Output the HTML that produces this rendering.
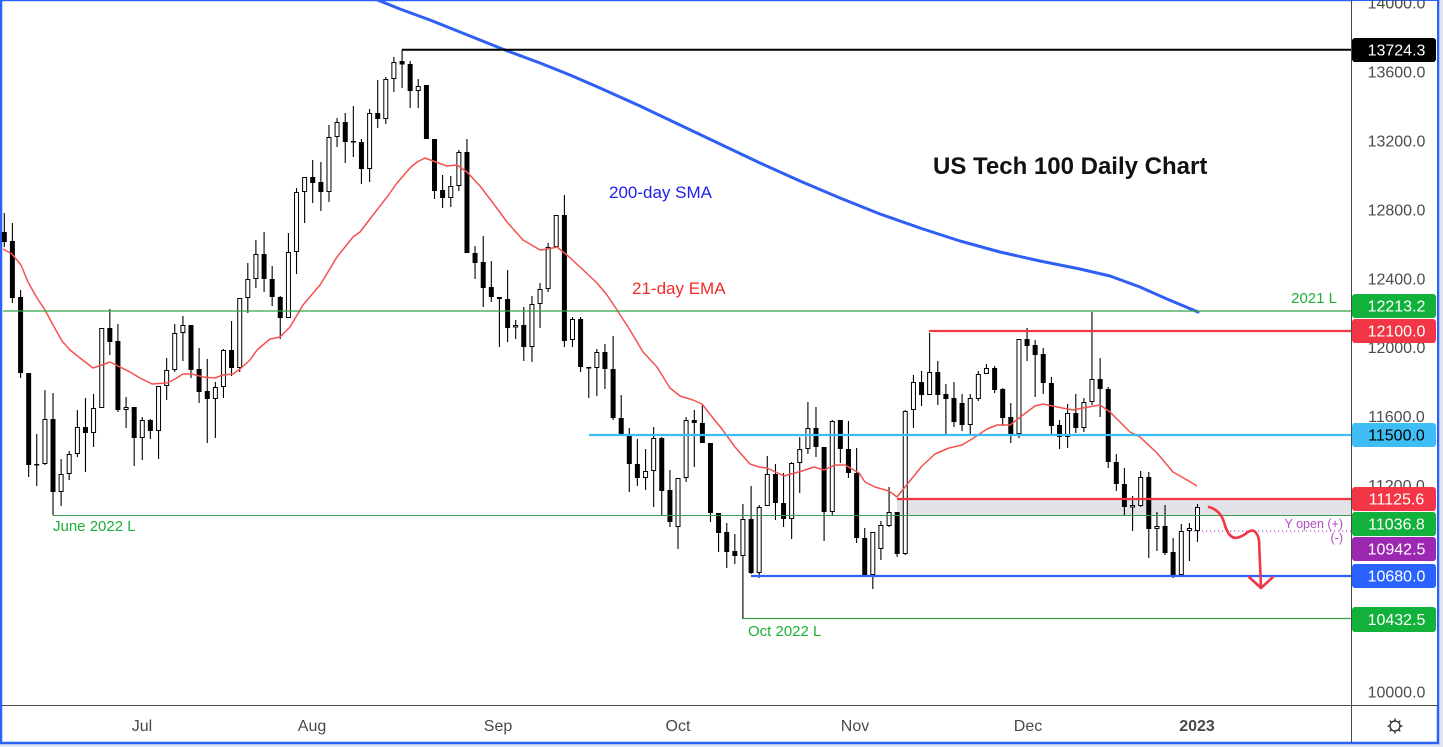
<!DOCTYPE html>
<html><head><meta charset="utf-8"><style>
html,body{margin:0;padding:0;background:#e0e4ee;}
svg{display:block;font-family:"Liberation Sans",Arial,sans-serif;}
</style></head><body>
<svg width="1443" height="747" viewBox="0 0 1443 747" xmlns="http://www.w3.org/2000/svg">
<rect x="0" y="0" width="1443" height="747" fill="#e0e4ee"/>
<rect x="1" y="0" width="1437" height="743" fill="#ffffff" stroke="#2962ff" stroke-width="2.5"/>

<!-- grey zone -->
<rect x="897" y="499" width="455" height="16.5" fill="#e1e3e9"/>

<!-- candles -->
<g transform="matrix(0.9984 0 0 1 0.007 0)">
<path fill="none" stroke="#000" stroke-width="1.1" d="M4.3 213V247M12.4 223V303M20.6 290V378M28.7 373V477M36.8 434V486M45 390V465M53.1 393V515M61.2 459V506M69.3 451V480M77.5 410V457M85.6 398V472M93.7 394V447M101.9 328V408M110 309V355M118.1 324V412M126.3 397V428M134.4 407V466M142.5 417V460M150.6 419V439M158.8 386V459M166.9 358V400M175 324V372M183.2 316V361M191.3 325V378M199.4 348V403M207.6 359V443M215.7 382V438M223.8 349V398M231.9 321V376M240.1 298V372M248.2 263V313M256.3 240V288M264.5 232V292M272.6 266V306M280.7 296V339M288.9 233V318M297 188V274M305.1 177V223M313.2 160V203M321.4 162V211M329.5 125V202M337.6 118V147M345.8 113V163M353.9 106V157M362 139V184M370.2 109V182M378.3 80V128M386.4 77V124M394.5 57V92M402.7 50V88M410.8 61V108M418.9 79V108M427.1 85V139M435.2 139V199M443.3 175V208M451.5 176V207M459.6 150V191M467.7 139V253M475.8 246V279M484 236V307M492.1 261V302M500.2 297V347M508.4 270V342M516.5 320V339M524.6 307V361M532.8 296V362M540.9 283V328M549 243V292M557.1 215V247M565.3 195V347M573.4 317V347M581.5 317V372M589.7 367V398M597.8 349V396M605.9 344V389M614.1 336V420M622.2 395V434M630.3 428V492M638.4 439V486M646.6 449V490M654.7 427V507M662.8 437V515M671 470V527M679.1 478V549M687.2 417V482M695.4 410V467M703.5 405V443M711.6 443V522M719.7 513V552M727.9 523V568M736 534V564M744.1 504V619M752.3 486V574M760.4 505V578M768.5 456V506M776.7 464V520M784.8 473V527M792.9 462V539M801 437V493M809.2 402V454M817.3 407V457M825.4 447V541M833.6 420V516M841.7 420V463M849.8 421V478M858 448V543M866.1 528V577M874.2 532V589M882.3 521V560M890.5 487V527M898.6 512V557M906.7 410V555M914.9 375V428M923 371V406M931.1 333V395M939.3 361V405M947.4 384V434M955.5 382V427M963.6 394V431M971.8 394V434M979.9 371V401M988 364V374M996.2 366V393M1004.3 388V426M1012.4 403V443M1020.6 339V438M1028.7 328V361M1036.8 340V397M1044.9 348V394M1053.1 377V434M1061.2 420V449M1069.3 404V448M1077.5 394V433M1085.6 398V432M1093.7 312V405M1101.9 358V417M1110 387V468M1118.1 454V491M1126.2 468V515M1134.4 496V531M1142.5 471V507M1150.6 472V558M1158.8 512V551M1166.9 505V555M1175 538V578M1183.2 524V575M1191.3 523V561M1199.4 504V542"/>
<path fill="#000" d="M1.8 232h5v10h-5zM9.9 241h5v57h-5zM18.1 297h5v76h-5zM26.2 373h5v92h-5zM34.3 464h5v1.5h-5zM50.6 419h5v73h-5zM83.1 427h5v6h-5zM107.5 328h5v14h-5zM115.6 341h5v69h-5zM131.9 407h5v31h-5zM148.1 420h5v11h-5zM188.8 325h5v45h-5zM196.9 369h5v23h-5zM205.1 391h5v8h-5zM229.4 350h5v18h-5zM262 254h5v25h-5zM270.1 279h5v18h-5zM278.2 297h5v21h-5zM310.7 177h5v6h-5zM318.9 182h5v10h-5zM343.3 122h5v20h-5zM351.4 141h5v1.5h-5zM359.5 142h5v27h-5zM375.8 113h5v6h-5zM400.2 61h5v3.5h-5zM408.3 64h5v27h-5zM424.6 85h5v54h-5zM432.7 139h5v52h-5zM440.8 190h5v8h-5zM465.2 152h5v101h-5zM473.3 253h5v10h-5zM481.5 262h5v26h-5zM489.6 287h5v10h-5zM497.7 297h5v2h-5zM505.9 299h5v29h-5zM522.1 325h5v22h-5zM562.8 215h5v126h-5zM579 319h5v48h-5zM587.2 367h5v1.5h-5zM603.4 352h5v17h-5zM611.6 369h5v49h-5zM619.7 418h5v16h-5zM627.8 436h5v28h-5zM635.9 464h5v14h-5zM660.3 438h5v53h-5zM668.5 490h5v32h-5zM692.9 420h5v3h-5zM701 423h5v20h-5zM709.1 443h5v70h-5zM717.2 513h5v20h-5zM725.4 532h5v20h-5zM733.5 551h5v5h-5zM749.8 519h5v54h-5zM774.2 474h5v29h-5zM782.3 503h5v16h-5zM814.8 428h5v19h-5zM822.9 447h5v65h-5zM839.2 420h5v29h-5zM847.3 449h5v24h-5zM855.5 473h5v65h-5zM863.6 538h5v37h-5zM896.1 512h5v42h-5zM920.5 382h5v13h-5zM936.8 372h5v23h-5zM944.9 394h5v5h-5zM953 398h5v24h-5zM961.1 403h5v22h-5zM993.7 368h5v22h-5zM1001.8 389h5v29h-5zM1009.9 417h5v17h-5zM1026.2 339h5v7h-5zM1034.3 345h5v10h-5zM1042.4 354h5v29h-5zM1050.6 383h5v43h-5zM1058.7 425h5v12h-5zM1075 413h5v15h-5zM1099.4 379h5v10h-5zM1107.5 389h5v73h-5zM1115.6 462h5v22h-5zM1123.7 484h5v23h-5zM1148.1 477h5v52h-5zM1164.4 526h5v27h-5zM1172.5 552h5v23h-5z"/>
<path fill="#fff" stroke="#000" stroke-width="1" d="M43 419.5h4v44h-4zM59.2 474.5h4v17h-4zM67.3 454.5h4v19h-4zM75.5 427.5h4v26h-4zM91.7 408.5h4v24h-4zM99.9 328.5h4v79h-4zM124.3 407.5h4v2h-4zM140.5 420.5h4v17h-4zM156.8 386.5h4v44h-4zM164.9 370.5h4v15h-4zM173 333.5h4v36h-4zM181.2 325.5h4v7h-4zM213.7 387.5h4v11h-4zM221.8 350.5h4v36h-4zM238.1 298.5h4v69h-4zM246.2 279.5h4v18h-4zM254.3 254.5h4v24h-4zM286.9 252.5h4v65h-4zM295 192.5h4v59h-4zM303.1 177.5h4v14h-4zM327.5 137.5h4v54h-4zM335.6 122.5h4v14h-4zM368.2 113.5h4v55h-4zM384.4 79.5h4v39h-4zM392.5 62.5h4v16h-4zM416.9 86.5h4v4h-4zM449.5 186.5h4v11h-4zM457.6 152.5h4v33h-4zM514.5 325.5h4v1.5h-4zM530.8 304.5h4v42h-4zM538.9 289.5h4v14h-4zM547 247.5h4v41h-4zM555.1 215.5h4v31h-4zM571.4 319.5h4v20h-4zM595.8 352.5h4v15h-4zM644.6 471.5h4v6h-4zM652.7 438.5h4v32h-4zM677.1 478.5h4v48h-4zM685.2 420.5h4v57h-4zM742.1 519.5h4v36h-4zM758.4 507.5h4v65h-4zM766.5 474.5h4v31h-4zM790.9 463.5h4v55h-4zM799 449.5h4v13h-4zM807.2 428.5h4v20h-4zM831.6 421.5h4v90h-4zM872.2 532.5h4v42h-4zM880.3 525.5h4v23h-4zM888.5 512.5h4v13h-4zM904.7 411.5h4v142h-4zM912.9 382.5h4v27h-4zM929.1 372.5h4v22h-4zM969.8 398.5h4v26h-4zM977.9 374.5h4v24h-4zM986 368.5h4v5h-4zM1018.6 339.5h4v94h-4zM1067.3 413.5h4v23h-4zM1083.6 402.5h4v25h-4zM1091.7 379.5h4v22h-4zM1132.4 505.5h4v1.5h-4zM1140.5 477.5h4v28h-4zM1156.8 526.5h4v2h-4zM1181.2 531.5h4v43h-4zM1189.3 528.5h4v2h-4zM1197.4 507.5h4v23h-4z"/>
</g>

<!-- 21 EMA -->
<polyline fill="none" stroke="#f4514f" stroke-width="1.5" stroke-linejoin="round" points="3,249 12,254 21,265 28,282 37,298 45,310 53,325 62,341 70,350 80,358 93,368 102,365 110,362 118,366 130,372 140,378 152,384 167,383 175,379 183,374 192,374 203,377 215,378 223,375 233,374 240,369 250,360 257,350 270,339 280,337 290,327 303,305 320,285 337,257 353,237 360,232 373,215 387,197 397,183 410,168 417,162 425,158 433,161 447,166 457,165 467,172 480,186 493,203 507,222 523,240 540,250 548,249 557,247 567,255 580,267 597,283 607,295 617,310 630,330 643,352 657,367 670,388 680,396 693,400 702,404 713,418 722,429 735,447 750,464 759,467 767,468 784,476 802,471 814,467 824,470 835,465 845,465 859,473 865,482 875,487 889,491 897,497 909,482 922,466 935,454 949,448 962,445 972,439 987,429 997,425 1010,425 1023,415 1035,406 1043,404 1057,407 1073,410 1083,408 1100,405 1110,412 1120,422 1130,432 1140,437 1157,453 1173,472 1187,480 1197,486"/>

<!-- 200 SMA -->
<polyline fill="none" stroke="#2f5ff5" stroke-width="3" stroke-linejoin="round" stroke-linecap="round" points="375,-1 400,9 430,20 460,32 505,50 540,63 570,75 600,88 640,106 680,125 720,144 760,163 800,181 840,198 880,214 920,228 960,241 1000,252 1040,261 1080,269 1110,276 1140,287 1167,299 1198,312"/>

<!-- horizontal levels -->
<line x1="402" y1="49.75" x2="1352" y2="49.75" stroke="#000" stroke-width="2"/>
<line x1="3" y1="311" x2="1352" y2="311" stroke="#33a345" stroke-width="1.2"/>
<line x1="929" y1="331" x2="1352" y2="331" stroke="#f23645" stroke-width="2.2"/>
<line x1="589" y1="435" x2="1352" y2="435" stroke="#3dbdf3" stroke-width="2.2"/>
<line x1="897" y1="499" x2="1352" y2="499" stroke="#f23645" stroke-width="2.2"/>
<line x1="53" y1="515.5" x2="1352" y2="515.5" stroke="#3a9a4e" stroke-width="1.1"/>
<line x1="751" y1="576" x2="1352" y2="576" stroke="#2962ff" stroke-width="2.2"/>
<line x1="743" y1="618.5" x2="1352" y2="618.5" stroke="#33a345" stroke-width="1.2"/>
<line x1="1190" y1="531" x2="1352" y2="531" stroke="#9c27b0" stroke-width="1" stroke-dasharray="1.2 2.8"/>

<!-- arrow -->
<path d="M1209,507 Q1220,510 1224,522 Q1228,538 1236,538 Q1242,537 1248,532 Q1256,527 1259,540 L1261,588" fill="none" stroke="#f23645" stroke-width="2.6" stroke-linecap="round" stroke-linejoin="round"/>
<path d="M1249,577 L1261,588 L1273,577" fill="none" stroke="#f23645" stroke-width="2.6" stroke-linecap="round" stroke-linejoin="round"/>

<!-- annotations -->
<text x="933" y="174" font-size="24" font-weight="bold" fill="#111">US Tech 100 Daily Chart</text>
<text x="609" y="198" font-size="17" fill="#2222ee">200-day SMA</text>
<text x="632" y="294" font-size="17" fill="#f22a2a">21-day EMA</text>
<text x="1337" y="303" font-size="15" fill="#1fae3a" text-anchor="end">2021 L</text>
<text x="53" y="531" font-size="15" fill="#1fae3a">June 2022 L</text>
<text x="748" y="636" font-size="15" fill="#1fae3a">Oct 2022 L</text>
<text x="1343" y="528" font-size="12.5" fill="#b04cc2" text-anchor="end">Y open (+)</text>
<text x="1343" y="542" font-size="12.5" fill="#b04cc2" text-anchor="end">(-)</text>

<!-- axes -->
<rect x="1352" y="1" width="85" height="704" fill="#fff"/>
<line x1="1351.5" y1="0" x2="1351.5" y2="743" stroke="#4a4a4a" stroke-width="1"/>
<line x1="2" y1="705.5" x2="1438" y2="705.5" stroke="#4a4a4a" stroke-width="1"/>

<g font-size="16" fill="#4c4c4c" text-anchor="middle">
<text x="1396.5" y="8.7">14000.0</text>
<text x="1396.5" y="77.6">13600.0</text>
<text x="1396.5" y="146.5">13200.0</text>
<text x="1396.5" y="215.4">12800.0</text>
<text x="1396.5" y="284.3">12400.0</text>
<text x="1396.5" y="353.2">12000.0</text>
<text x="1396.5" y="422.1">11600.0</text>
<text x="1396.5" y="491">11200.0</text>
<text x="1396.5" y="559.9">10800.0</text>
<text x="1396.5" y="628.8">10400.0</text>
<text x="1396.5" y="697.7">10000.0</text>
</g>

<!-- price labels -->
<g font-size="16" text-anchor="middle">
<rect x="1352" y="38" width="84" height="24" rx="3" fill="#000"/>
<text x="1396.5" y="55.7" fill="#fff">13724.3</text>
<rect x="1352" y="294" width="84" height="24" rx="3" fill="#12b13b"/>
<text x="1396.5" y="311.7" fill="#fff">12213.2</text>
<rect x="1352" y="319" width="84" height="24" rx="3" fill="#f23645"/>
<text x="1396.5" y="336.7" fill="#fff">12100.0</text>
<rect x="1352" y="423" width="84" height="24" rx="3" fill="#3ebef4"/>
<text x="1396.5" y="440.7" fill="#000">11500.0</text>
<rect x="1352" y="487" width="84" height="24" rx="3" fill="#f23645"/>
<text x="1396.5" y="504.7" fill="#fff">11125.6</text>
<rect x="1352" y="512" width="84" height="24" rx="3" fill="#12b13b"/>
<text x="1396.5" y="529.7" fill="#fff">11036.8</text>
<rect x="1352" y="537" width="84" height="24" rx="3" fill="#9c27b0"/>
<text x="1396.5" y="554.7" fill="#fff">10942.5</text>
<rect x="1352" y="564" width="84" height="24" rx="3" fill="#2962ff"/>
<text x="1396.5" y="581.7" fill="#fff">10680.0</text>
<rect x="1352" y="607" width="84" height="25" rx="3" fill="#12b13b"/>
<text x="1396.5" y="625.2" fill="#fff">10432.5</text>
</g>

<!-- time axis -->
<g font-size="16" fill="#4a4a4a" text-anchor="middle">
<text x="142" y="731">Jul</text>
<text x="312" y="731">Aug</text>
<text x="498" y="731">Sep</text>
<text x="678" y="731">Oct</text>
<text x="855" y="731">Nov</text>
<text x="1028" y="731">Dec</text>
<text x="1197" y="731" font-weight="bold">2023</text>
</g>

<!-- gear -->
<g stroke="#222" stroke-width="1.3" fill="none">
<circle cx="1395" cy="726" r="5"/>
<path d="M1395 718.5V720.5M1395 731.5V733.5M1387.5 726H1389.5M1400.5 726H1402.5M1389.7 720.7L1391.1 722.1M1398.9 729.9L1400.3 731.3M1389.7 731.3L1391.1 729.9M1398.9 722.1L1400.3 720.7"/>
</g>
</svg>
</body></html>
